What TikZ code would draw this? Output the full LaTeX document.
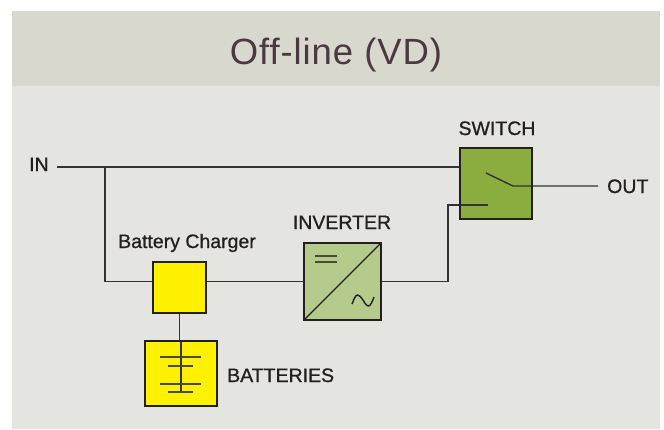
\documentclass[tikz,border=0pt]{standalone}
\usepackage{fontspec}
\setmainfont{Liberation Sans}
\definecolor{bandc}{HTML}{D8D8CF}
\definecolor{panelc}{HTML}{E4E5E1}
\definecolor{inkc}{HTML}{231F20}
\definecolor{titlec}{HTML}{4A3A40}
\definecolor{yelc}{HTML}{FFF100}
\definecolor{invc}{HTML}{B4CB8C}
\definecolor{swc}{HTML}{8BAD3F}
\definecolor{wirec}{HTML}{333333}
\definecolor{platec}{HTML}{4A4A30}
\begin{document}
\begin{tikzpicture}[x=1pt,y=-1pt,
  blk/.style={draw=inkc,line width=2.4pt,inner sep=0pt,outer sep=0pt},
  lbl/.style={text=inkc,font=\fontsize{19.5}{20}\selectfont\addfontfeatures{FakeBold=0.8},inner sep=0pt},
  wire/.style={draw=wirec,line width=1.4pt},
  plate/.style={draw=platec,line width=2pt}]
\useasboundingbox (0,0) rectangle (664,429);
\fill[panelc] (12,86) rectangle (660,429);
\fill[bandc] (12,11) rectangle (660,86);
\node[anchor=base,text=titlec,inner sep=0pt,font=\fontsize{36.5}{38}\selectfont\addfontfeatures{LetterSpace=2.5}] (title) at (336,64) {Off-line (VD)};
% blocks
\node[blk,fill=yelc,minimum width=53pt,minimum height=51pt] (chg) at (179.5,287.5) {};
\node[blk,fill=yelc,minimum width=72pt,minimum height=65pt] (bat) at (181,373.5) {};
\node[blk,fill=invc,minimum width=77pt,minimum height=77pt] (inv) at (342.5,281.5) {};
\node[blk,fill=swc,minimum width=72pt,minimum height=71pt] (sw) at (496,183.5) {};
% labels
\node[lbl,anchor=base west] (inl) at (29,171) {IN};
\node[lbl,anchor=base west] (outl) at (607,193) {OUT};
\node[lbl,anchor=base] (swl) at (497,135) {SWITCH};
\node[lbl,anchor=base] (invl) at (342,229) {INVERTER};
\node[lbl,anchor=base west] (chgl) at (118,248) {Battery Charger};
\node[lbl,anchor=base west] (batl) at (227,382) {BATTERIES};
% wiring
\coordinate (inend) at (57,167);
\coordinate (j1) at (105,167);
\coordinate (swin) at (448,205);
\coordinate (swlow) at (488,205);
\coordinate (lev1) at (486,173);
\coordinate (lev2) at (513,186);
\coordinate (outend) at (598,186);
\draw[wire] (inend) -- (inend -| sw.west);
\draw[wire] (j1) |- (inv.west -| chg.west);
\draw[wire] (inv.west -| chg.east) -- (inv.west);
\draw[wire] (chg.south) -- (chg.south |- bat.north);
\draw[wire] (inv.east) -| (swin) -- (swlow);
\draw[wire] (lev1) -- (lev2) -- (outend);
% battery symbol
\draw[wire] (bat.north) -- ++(0,52);
\draw[plate] (160,357) -- (201,357);
\draw[plate] (168,366) -- (193,366);
\draw[plate] (160,384) -- (201,384);
\draw[plate] (168,392) -- (193,392);
% inverter symbol
\draw[draw=inkc,line width=1.3pt] (inv.south west) -- (inv.north east);
\draw[draw=platec,line width=1.6pt] (315,256) -- (337,256) (315,262) -- (337,262);
\draw[draw=inkc,line width=1.4pt] (352,304) sin (357.5,295) cos (363,300) sin (368.5,306) cos (374,297);
% redraw borders on top
\draw[blk,fill=none] (chg.south west) rectangle (chg.north east);
\draw[blk,fill=none] (bat.south west) rectangle (bat.north east);
\draw[blk,fill=none] (inv.south west) rectangle (inv.north east);
\draw[blk,fill=none] (sw.south west) rectangle (sw.north east);
\end{tikzpicture}
\end{document}
